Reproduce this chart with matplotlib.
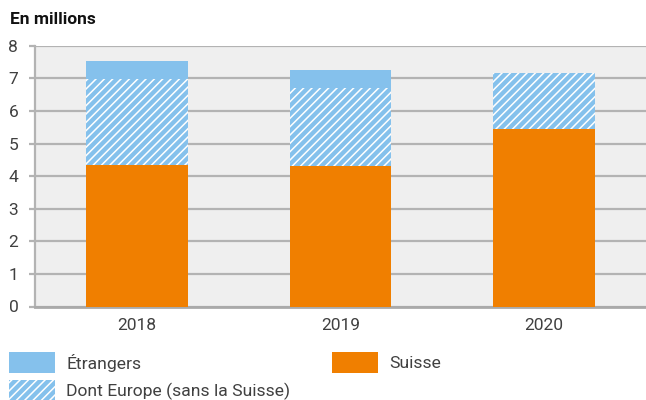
import matplotlib
matplotlib.use("Agg")
import matplotlib.pyplot as plt
from matplotlib.patches import Rectangle

# données (en millions)
annees = ["2018", "2019", "2020"]
suisse = [4.35, 4.32, 5.44]
europe = [2.63, 2.37, 1.71]        # dont Europe (sans la Suisse)
etrangers_autres = [0.55, 0.56, 0.02]  # reste des étrangers

BLEU = "#85c1ec"
ORANGE = "#f07f00"
GRIS = "#b3b3b3"
TEXTE = "#404040"

plt.rcParams["font.family"] = ["Roboto", "DejaVu Sans"]
plt.rcParams["hatch.linewidth"] = 1.1

fig = plt.figure(figsize=(6.46, 4.0), dpi=100)
ax = fig.add_axes([35 / 646, 1 - 306.5 / 400, 611 / 646, 260.8 / 400])
ax.set_facecolor("#efefef")

x = range(len(annees))
w = 0.5
bas_europe = suisse
bas_autres = [s + e for s, e in zip(suisse, europe)]

ax.bar(x, suisse, width=w, color=ORANGE, linewidth=0, zorder=3)
ax.bar(x, europe, width=w, bottom=bas_europe, color=BLEU, edgecolor="white",
       hatch="////", linewidth=0, zorder=3)
ax.bar(x, etrangers_autres, width=w, bottom=bas_autres, color=BLEU,
       linewidth=0, zorder=3)

ax.set_xlim(-0.5, 2.5)
ax.set_ylim(0, 8)
ax.set_yticks(range(0, 9))
ax.set_xticks(list(x))
ax.set_xticklabels(annees)
ax.grid(axis="y", color=GRIS, linewidth=1.6, zorder=1)
for s in ["top", "right"]:
    ax.spines[s].set_visible(False)
ax.spines["left"].set_color(GRIS)
ax.spines["left"].set_linewidth(1.6)
ax.spines["bottom"].set_color("#aaaaaa")
ax.spines["bottom"].set_linewidth(2)
ax.tick_params(axis="y", length=4, width=1.6, color=GRIS, labelsize=12.5,
               labelcolor=TEXTE, pad=8)
ax.tick_params(axis="x", length=0, labelsize=12.5, labelcolor=TEXTE, pad=8)

fig.text(10 / 646, 1 - 19 / 400, "En millions", fontsize=12.5, fontweight="bold",
         color="#111111", va="center", ha="left")

# légende
def entree(px, py, label, hatch=None, color=BLEU):
    r = Rectangle((px / 646, 1 - (py + 21) / 400), 46 / 646, 21 / 400,
                  transform=fig.transFigure, facecolor=color,
                  edgecolor="white" if hatch else color, hatch=hatch, linewidth=0)
    fig.add_artist(r)
    fig.text((px + 57) / 646, 1 - (py + 11) / 400, label, fontsize=12.6,
             color=TEXTE, va="center", ha="left")

entree(9, 352, "Étrangers")
entree(9, 380, "Dont Europe (sans la Suisse)", hatch="////")
entree(332, 352, "Suisse", color=ORANGE)

fig.savefig("out.png", dpi=100)
